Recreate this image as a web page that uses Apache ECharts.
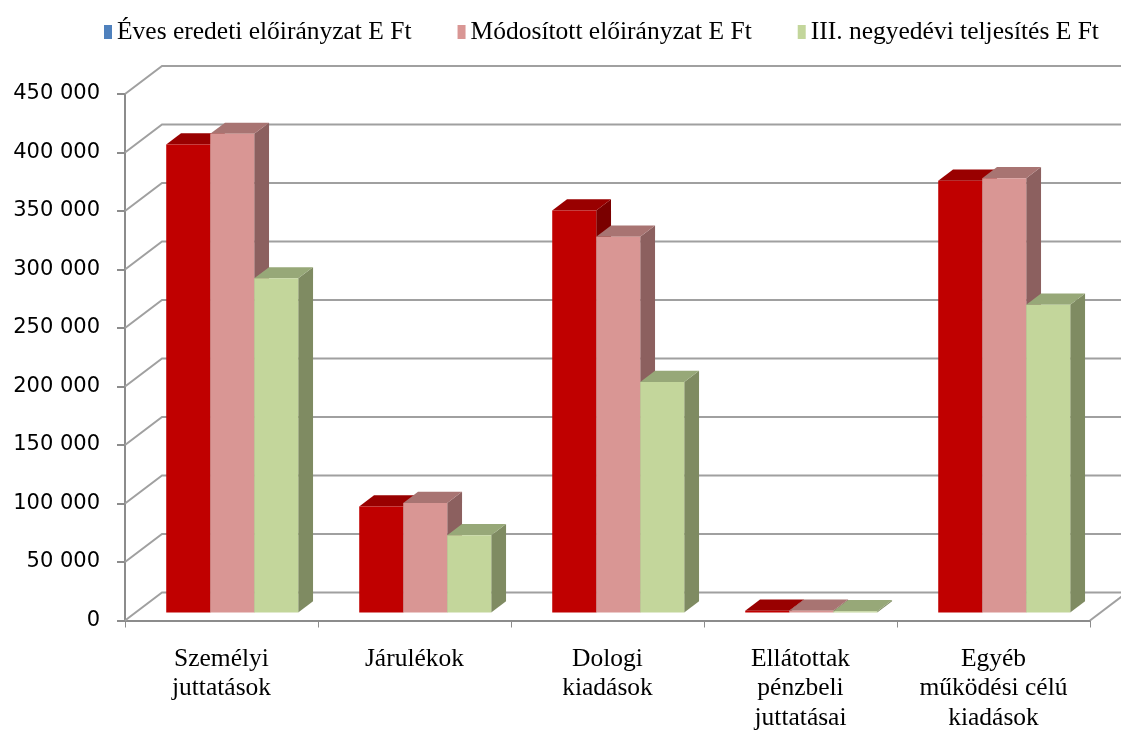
<!DOCTYPE html>
<html>
<head>
<meta charset="utf-8">
<title>Kiadások</title>
<script src="https://cdn.jsdelivr.net/npm/echarts@6/dist/echarts.min.js"></script>
<style>
    html, body { margin: 0; padding: 0; background: #fff; }
    #main { width: 1121px; height: 733px; }
</style>
</head>
<body>
<div id="main"></div>
<script>
    var categories = ['Személyi\njuttatások', 'Járulékok', 'Dologi\nkiadások', 'Ellátottak\npénzbeli\njuttatásai', 'Egyéb\nműködési célú\nkiadások'];
    var seriesNames = ['Éves eredeti előirányzat E Ft', 'Módosított előirányzat E Ft', 'III. negyedévi teljesítés E Ft'];
    var eredeti = [400000, 90500, 343500, 1500, 369000];
    var modositott = [409000, 93500, 321000, 1500, 371000];
    var teljesites = [285500, 66000, 197000, 1000, 263000];
    var yTicks = [0, 50000, 100000, 150000, 200000, 250000, 300000, 350000, 400000, 450000];

    // oblique "3D" look: back wall offset, bar position and depth
    var WALL_DX = 37, WALL_DY = -28;
    var BAR_POS = 0.29;
    var BAR_DEPTH = 0.4;
    var BAR_W = 0.228;
    var GRID_COLOR = '#A0A0A0';
    var AXIS_COLOR = '#8C8C8C';

    var legendColors = ['#4F81BD', '#D99694', '#C3D69B'];
    var faces = [
        {front: '#C00000', top: '#990000', side: '#7A0000'},
        {front: '#D99694', top: '#A87472', side: '#8C605F'},
        {front: '#C3D69B', top: '#97A878', side: '#7F8B62'}
    ];

    function barItem(idx) {
        return function (params, api) {
            var cat = api.value(0);
            var base = api.coord([cat, 0]);
            var top = api.coord([cat, api.value(1)]);
            var band = api.size([1, 0])[0];
            var w = band * BAR_W;
            var ox = WALL_DX * BAR_POS, oy = WALL_DY * BAR_POS;
            var dx = WALL_DX * BAR_DEPTH, dy = WALL_DY * BAR_DEPTH;
            var x = base[0] - 1.5 * w + idx * w + ox;
            var yb = base[1] + oy, yt = top[1] + oy;
            var c = faces[idx];
            return {
                type: 'group',
                children: [
                    {type: 'polygon', shape: {points: [[x + w, yt], [x + w + dx, yt + dy], [x + w + dx, yb + dy], [x + w, yb]]}, style: {fill: c.side}},
                    {type: 'polygon', shape: {points: [[x, yt], [x + w, yt], [x + w + dx, yt + dy], [x + dx, yt + dy]]}, style: {fill: c.top}},
                    {type: 'rect', shape: {x: x, y: yt, width: w, height: yb - yt}, style: {fill: c.front}}
                ]
            };
        };
    }

    function wallItem(params, api) {
        var cs = params.coordSys;
        var y = api.coord([0, api.value(1)])[1];
        var x0 = cs.x, x1 = cs.x + cs.width;
        var children = [{
            type: 'polyline',
            shape: {points: [[x0, y], [x0 + WALL_DX, y + WALL_DY], [x1 + WALL_DX, y + WALL_DY]]},
            style: {stroke: GRID_COLOR, lineWidth: 2, fill: null}
        }];
        if (api.value(1) === 0) {
            children.push({
                type: 'line',
                shape: {x1: x1, y1: y, x2: x1 + WALL_DX, y2: y + WALL_DY},
                style: {stroke: GRID_COLOR, lineWidth: 2}
            });
        }
        return {type: 'group', children: children};
    }

    function pairs(arr) {
        return arr.map(function (v, i) { return [i, v]; });
    }

    var values = [eredeti, modositott, teljesites];
    var series = [{
        name: 'wall',
        type: 'custom',
        renderItem: wallItem,
        data: yTicks.map(function (v) { return [0, v]; }),
        encode: {x: 0, y: 1},
        silent: true,
        z: 1
    }];
    values.forEach(function (arr, i) {
        series.push({
            name: seriesNames[i],
            type: 'custom',
            renderItem: barItem(i),
            data: pairs(arr),
            encode: {x: 0, y: 1},
            itemStyle: {color: legendColors[i]},
            z: 2
        });
    });

    var myChart = echarts.init(document.getElementById('main'));
    myChart.setOption({
        animation: false,
        backgroundColor: '#fff',
        legend: {
            data: seriesNames,
            left: 99,
            top: 14,
            itemWidth: 8,
            itemHeight: 14,
            itemGap: 46,
            icon: 'rect',
            textStyle: {fontFamily: 'Liberation Serif', fontSize: 25.5, color: '#000'}
        },
        grid: {left: 125, right: 31, top: 94, bottom: 106},
        xAxis: {
            type: 'category',
            data: categories,
            axisLine: {lineStyle: {color: AXIS_COLOR, width: 2}},
            axisTick: {show: true, length: 7, lineStyle: {color: AXIS_COLOR, width: 1}},
            axisLabel: {
                interval: 0,
                margin: 24,
                fontFamily: 'Liberation Serif',
                fontSize: 25.5,
                lineHeight: 29.5,
                color: '#000'
            }
        },
        yAxis: {
            type: 'value',
            min: 0,
            max: 450000,
            interval: 50000,
            axisLine: {show: true, lineStyle: {color: AXIS_COLOR, width: 2}},
            axisTick: {show: true, length: 8, lineStyle: {color: AXIS_COLOR, width: 2}},
            splitLine: {show: false},
            axisLabel: {
                margin: 25,
                fontFamily: 'DejaVu Sans',
                fontSize: 21,
                color: '#000',
                formatter: function (v) {
                    return String(v).replace(/\B(?=(\d{3})+(?!\d))/g, ' ');
                }
            }
        },
        series: series
    });
</script>
</body>
</html>
